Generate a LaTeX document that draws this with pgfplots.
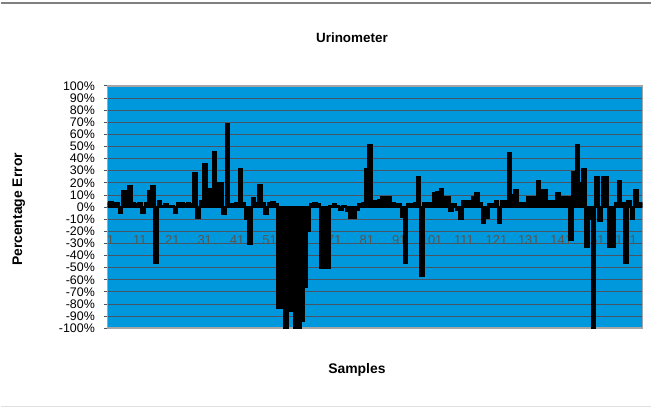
\documentclass[border=0pt]{standalone}
\usepackage{fontspec}
\setmainfont{Liberation Sans}
\usepackage{pgfplots}
\usepackage{pgfplotstable}
\pgfplotsset{compat=1.18}
\definecolor{plotblue}{RGB}{0,152,221}
\definecolor{gridc}{RGB}{70,85,100}
\definecolor{framec}{RGB}{165,165,165}
\definecolor{ticklab}{RGB}{85,85,85}
\pgfplotstableread{
i v
1 3
2 4
3 3
4 3
5 -5
6 13
7 13
8 17
9 3
10 2
11 3
12 -5
13 3
14 13
15 17
16 -46
17 5
18 1
19 2
20 1
21 1
22 -5
23 3
24 3
25 2
26 3
27 2
28 28
29 -9
30 5
31 35
32 5
33 15
34 45
35 20
36 20
37 -6
38 68
39 2
40 2
41 3
42 31
43 3
44 -10
45 -30
46 7
47 3
48 18
49 3
50 -6
51 3
52 4
53 2
54 -83
55 -83
56 -100
57 -86
58 -86
59 -100
60 -100
61 -94
62 -66
63 -20
64 2
65 3
66 2
67 -50
68 -50
69 -50
70 1
71 2
72 1
73 -2
74 1
75 -3
76 -9
77 -9
78 -2
79 2
80 3
81 31
82 51
83 5
84 5
85 6
86 8
87 8
88 8
89 3
90 2
91 2
92 -8
93 -46
94 2
95 2
96 3
97 25
98 -57
99 3
100 3
101 3
102 11
103 12
104 15
105 8
106 8
107 -3
108 2
109 -2
110 -10
111 5
112 5
113 5
114 8
115 11
116 3
117 -13
118 -9
119 2
120 2
121 5
122 -13
123 5
124 5
125 44
126 10
127 14
128 3
129 3
130 3
131 8
132 8
133 8
134 21
135 14
136 14
137 5
138 5
139 5
140 11
141 8
142 8
143 8
144 -27
145 29
146 51
147 20
148 31
149 -33
150 -10
151 -100
152 25
153 -11
154 25
155 25
156 -33
157 -33
158 3
159 21
160 3
161 -46
162 5
163 -10
164 14
165 3
166 3
}\urinodata
\begin{document}
\begin{tikzpicture}
\begin{axis}[
  at={(107bp,80bp)}, anchor=south west,
  scale only axis, width=536bp, height=243bp,
  xmin=1, xmax=166, ymin=-100, ymax=100,
  axis background/.style={fill=plotblue},
  axis line style={framec, line width=1.5bp},
  ymajorgrids, grid style={gridc, line width=0.8bp},
  ytick={-100,-90,...,100},
  yticklabels={-100\%,-90\%,-80\%,-70\%,-60\%,-50\%,-40\%,-30\%,-20\%,-10\%,0\%,10\%,20\%,30\%,40\%,50\%,60\%,70\%,80\%,90\%,100\%},
  yticklabel style={font=\fontsize{12.5}{12.5}\selectfont, inner sep=0.5pt, xshift=-8bp},
  xtick=\empty,
  ytick style={gridc, line width=0.8bp},
  tick align=outside, major tick length=4bp,
  ytick pos=left,
  clip=true,
]
\foreach \k/\p in {1/1.9,11/11,21/21,31/31,41/41,51/51,61/61,71/71,81/81,91/91,101/101,111/111,121/121,131/131,141/141,151/151,161/161}{
  \edef\tmp{\noexpand\node[font=\noexpand\fontsize{13}{13}\noexpand\selectfont, text=ticklab] at (axis cs:\p,-27) {\k};}
  \tmp
}
\addplot[ybar, bar width=1, fill=black, draw=black, line width=2.4bp] table[x=i,y=v] {\urinodata};
\end{axis}
\draw[line width=1.5bp, gray] (0,406bp) -- (652bp,406bp);
\draw[line width=0.8bp, gray!25] (0,2bp) -- (652bp,2bp);
\node[font=\bfseries\fontsize{13.5}{16}\selectfont] at (352bp,371bp) {Urinometer};
\node[font=\bfseries\fontsize{14}{16}\selectfont] at (357bp,38bp) {Samples};
\node[font=\bfseries\fontsize{14}{16}\selectfont, rotate=90] at (18bp,199bp) {Percentage Error};
\path (0,0) rectangle (652bp,409bp);
\end{tikzpicture}
\end{document}
